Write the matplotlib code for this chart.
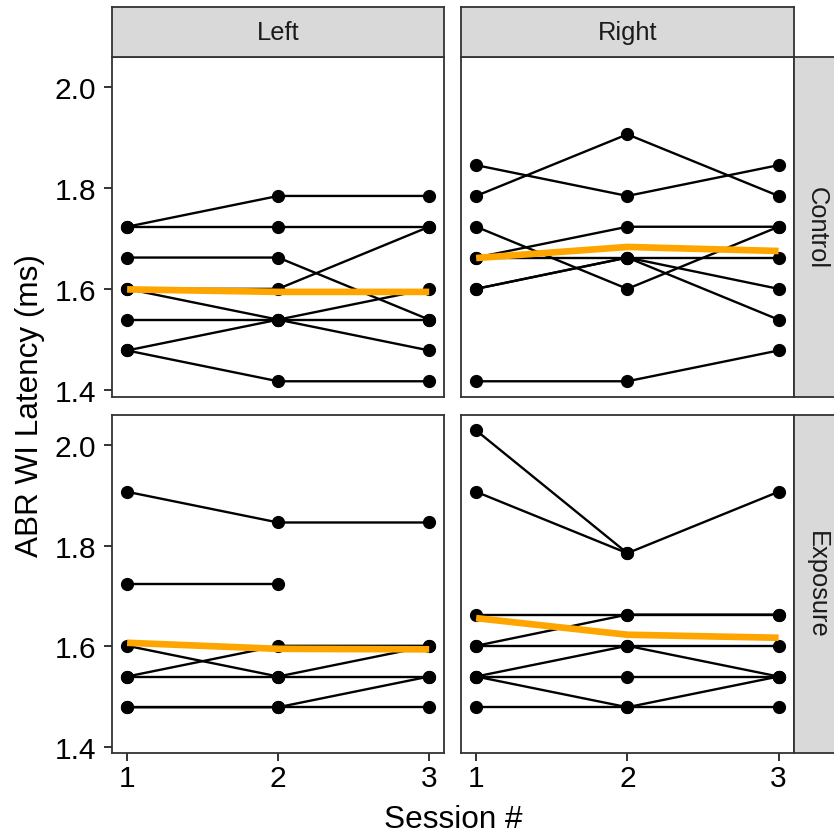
import numpy as np
import matplotlib
matplotlib.use("Agg")
import matplotlib.pyplot as plt

plt.rcParams['font.family'] = ['Liberation Sans', 'DejaVu Sans']

# sessions on the x axis
sessions = [1, 2, 3]
nan = np.nan

# one row per animal, columns = session 1..3 (ABR wave I latency, ms)
ctrl_left = [
    [1.724, 1.785, 1.785],
    [1.724, 1.724, 1.724],
    [1.663, 1.663, 1.540],
    [1.601, 1.601, 1.724],
    [1.601, 1.540, 1.479],
    [1.540, 1.540, 1.540],
    [1.479, 1.540, 1.601],
    [1.479, 1.418, 1.418],
]
ctrl_right = [
    [1.846, 1.785, 1.846],
    [1.785, 1.907, 1.785],
    [1.724, 1.601, 1.724],
    [1.663, 1.724, 1.724],
    [1.663, 1.663, 1.663],
    [1.601, 1.663, 1.601],
    [1.601, 1.663, 1.540],
    [1.418, 1.418, 1.479],
]
exp_left = [
    [1.907, 1.846, 1.846],
    [1.724, 1.724, nan],
    [1.601, 1.540, 1.601],
    [1.540, 1.601, 1.601],
    [1.540, 1.540, 1.540],
    [1.479, 1.479, 1.540],
    [1.479, 1.479, 1.479],
]
exp_right = [
    [2.029, 1.785, nan],
    [1.907, 1.785, 1.907],
    [1.663, 1.663, 1.663],
    [1.601, 1.663, 1.663],
    [1.601, 1.601, 1.601],
    [1.540, 1.601, 1.540],
    [1.540, 1.540, 1.540],
    [1.540, 1.479, 1.540],
    [1.479, 1.479, 1.479],
]

# group mean lines (orange)
ctrl_left_mean = [1.600, 1.595, 1.595]
ctrl_right_mean = [1.662, 1.684, 1.676]
exp_left_mean = [1.607, 1.595, 1.594]
exp_right_mean = [1.656, 1.623, 1.617]

col_labels = ['Left', 'Right']
row_labels = ['Control', 'Exposure']
y_ticks = [1.4, 1.6, 1.8, 2.0]

W, H = 834, 837
fig = plt.figure(figsize=(W / 100, H / 100), dpi=100)


def px_axes(x0, y0, x1, y1):
    # pixel box (top-left origin) -> figure axes
    return fig.add_axes([x0 / W, 1 - y1 / H, (x1 - x0) / W, (y1 - y0) / H])


edge = '#333333'
col_x = [(112, 444.3), (461, 793.7)]
row_y = [(58.3, 397.7), (416, 754.3)]

panels = [[(ctrl_left, ctrl_left_mean), (ctrl_right, ctrl_right_mean)],
          [(exp_left, exp_left_mean), (exp_right, exp_right_mean)]]

all_vals = np.array([v for grid in (ctrl_left, ctrl_right, exp_left, exp_right)
                     for row in grid for v in row], dtype=float)
ymin, ymax = np.nanmin(all_vals), np.nanmax(all_vals)
pad = 0.05 * (ymax - ymin)

for r in range(2):
    for c in range(2):
        ax = px_axes(col_x[c][0], row_y[r][0], col_x[c][1], row_y[r][1])
        data, mean = panels[r][c]
        for row in data:
            ax.plot(sessions, row, color='black', lw=1.7, zorder=2)
            ax.plot(sessions, row, 'o', color='black', ms=8.5, zorder=3)
        ax.plot(sessions, mean, color='#FFA500', lw=4.8, zorder=4,
                solid_capstyle='butt')
        ax.set_xlim(0.9, 3.1)
        ax.set_ylim(ymin - pad, ymax + pad)
        ax.set_xticks(sessions)
        ax.set_yticks(y_ticks)
        ax.tick_params(length=5.5, width=1.4, color=edge, labelsize=21.5,
                       labelcolor='black')
        ax.tick_params(axis='y', pad=6)
        ax.tick_params(axis='x', pad=2)
        if c == 1:
            ax.tick_params(axis='y', left=False, labelleft=False)
        else:
            ax.set_yticklabels([f'{t:.1f}' for t in y_ticks])
        if r == 0:
            ax.tick_params(axis='x', bottom=False, labelbottom=False)
        for s in ax.spines.values():
            s.set_color(edge)
            s.set_linewidth(1.3)

# column strips
for c in range(2):
    sa = px_axes(col_x[c][0], 8, col_x[c][1], 58.3)
    sa.set_facecolor('#D9D9D9')
    sa.set_xticks([])
    sa.set_yticks([])
    for s in sa.spines.values():
        s.set_color(edge)
        s.set_linewidth(1.3)
    sa.text(0.5, 0.5, col_labels[c], ha='center', va='center',
            fontsize=18.4, color='#1A1A1A', transform=sa.transAxes)

# row strips (run off the right edge)
for r in range(2):
    sa = px_axes(793.7, row_y[r][0], 840, row_y[r][1])
    sa.set_facecolor('#D9D9D9')
    sa.set_xticks([])
    sa.set_yticks([])
    for s in sa.spines.values():
        s.set_color(edge)
        s.set_linewidth(1.3)
    sa.text(0.5, 0.5, row_labels[r], ha='center', va='center', rotation=-90,
            fontsize=18.4, color='#1A1A1A', transform=sa.transAxes)

fig.text(30 / W, 1 - 406 / H, 'ABR WI Latency (ms)', rotation=90,
         ha='center', va='center', fontsize=22.7)
fig.text(453 / W, 1 - 820 / H, 'Session #', ha='center', va='center',
         fontsize=22.7)

fig.savefig('out.png', dpi=100)
